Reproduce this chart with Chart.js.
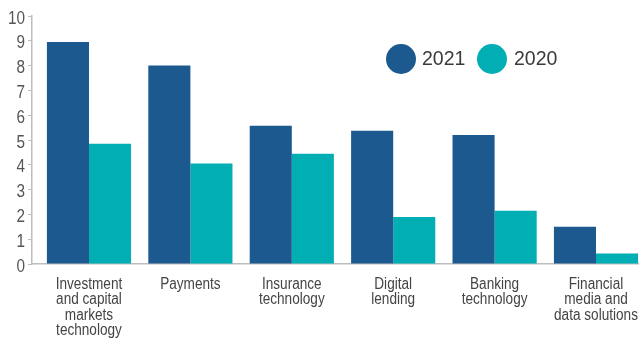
<!DOCTYPE html>
<html>
<head>
<meta charset="utf-8">
<script src="https://cdn.jsdelivr.net/npm/chart.js@4/dist/chart.umd.min.js"></script>
<style>
    html, body { margin: 0; padding: 0; background: #fff; overflow: hidden; }
    #wrap { width: 639px; height: 339px; }
</style>
</head>
<body>
<div id="wrap"><canvas id="fintechChart" width="639" height="339"></canvas></div>
<script>

// deal value by segment, 2021 vs 2020
const categories = [
    ["Investment", "and capital", "markets", "technology"],
    ["Payments"],
    ["Insurance", "technology"],
    ["Digital", "lending"],
    ["Banking", "technology"],
    ["Financial", "media and", "data solutions"]
];

const values2021 = [8.95, 8.0, 5.57, 5.37, 5.2, 1.5];
const values2020 = [4.85, 4.05, 4.45, 1.9, 2.15, 0.42];

const seriesNames = ["2021", "2020"];
const seriesColors = ["#1b598f", "#00aeb3"];

const yTicks = [0, 1, 2, 3, 4, 5, 6, 7, 8, 9, 10];

const baseFont = "'Liberation Sans', Arial, sans-serif";
const axisGray = "#bdbdbd";

function toPoints(values) {
    return values.map((v, i) => ({ x: i, y: v }));
}

// no narrow face installed, so squeeze the regular one
function drawNarrow(ctx, text, x, y) {
    ctx.save();
    ctx.translate(x, y);
    ctx.scale(0.85, 1);
    ctx.fillText(text, 0, 0);
    ctx.restore();
}

// tick labels for both axes, condensed
const axisText = {
    id: "axisText",
    afterDraw(chart) {
        const ctx = chart.ctx;
        const xs = chart.scales.x;
        const ys = chart.scales.y;
        ctx.save();
        ctx.textBaseline = "alphabetic";

        ctx.fillStyle = "#444";
        ctx.font = "16px " + baseFont;
        ctx.textAlign = "center";
        categories.forEach((lines, i) => {
            const x = xs.getPixelForValue(i);
            lines.forEach((line, j) => {
                drawNarrow(ctx, line, x, xs.top + 25 + j * 15.3);
            });
        });

        ctx.fillStyle = "#555";
        ctx.font = "18px " + baseFont;
        ctx.textAlign = "right";
        yTicks.forEach((v) => {
            drawNarrow(ctx, String(v), ys.right - 7, ys.getPixelForValue(v) + 7.5);
        });
        ctx.restore();
    }
};

// legend dots + years in the upper right
const dotLegend = {
    id: "dotLegend",
    afterDraw(chart) {
        const ctx = chart.ctx;
        const spots = [{ cx: 401, tx: 422 }, { cx: 492, tx: 514 }];
        const y = 59;
        ctx.save();
        chart.data.datasets.forEach((ds, i) => {
            ctx.beginPath();
            ctx.arc(spots[i].cx, y, 15, 0, Math.PI * 2);
            ctx.fillStyle = ds.backgroundColor;
            ctx.fill();
            ctx.fillStyle = "#3a3a3a";
            ctx.font = "19.5px " + baseFont;
            ctx.textBaseline = "middle";
            ctx.textAlign = "left";
            ctx.fillText(ds.label, spots[i].tx, y + 1);
        });
        ctx.restore();
    }
};

new Chart(document.getElementById("fintechChart"), {

    type: "bar",

    data: {
        datasets: [
            {
                label: seriesNames[0],
                data: toPoints(values2021),
                backgroundColor: seriesColors[0]
            },
            {
                label: seriesNames[1],
                data: toPoints(values2020),
                backgroundColor: seriesColors[1]
            }
        ]
    },

    options: {
        responsive: false,
        animation: false,
        layout: { padding: { top: 16, right: 0, bottom: 0, left: 0 } },
        datasets: {
            bar: { categoryPercentage: 0.83, barPercentage: 1.0 }
        },
        plugins: {
            legend: { display: false },
            tooltip: { enabled: false }
        },
        scales: {
            x: {
                type: "linear",
                position: "bottom",
                offset: false,
                min: -0.562,
                max: 5.424,
                afterBuildTicks: (s) => { s.ticks = categories.map((c, i) => ({ value: i })); },
                afterFit: (s) => { s.height = 75; },
                ticks: { display: false },
                grid: { display: false, drawTicks: false, offset: false },
                border: { display: true, color: axisGray, width: 1.5 }
            },
            y: {
                min: 0,
                max: 10,
                afterBuildTicks: (s) => { s.ticks = yTicks.map((v) => ({ value: v })); },
                afterFit: (s) => { s.width = 32; },
                ticks: { display: false },
                grid: {
                    drawOnChartArea: false,
                    drawTicks: true,
                    tickLength: 4,
                    color: axisGray
                },
                border: { display: true, color: axisGray, width: 1.5 }
            }
        }
    },

    plugins: [axisText, dotLegend]

});

</script>
</body>
</html>
